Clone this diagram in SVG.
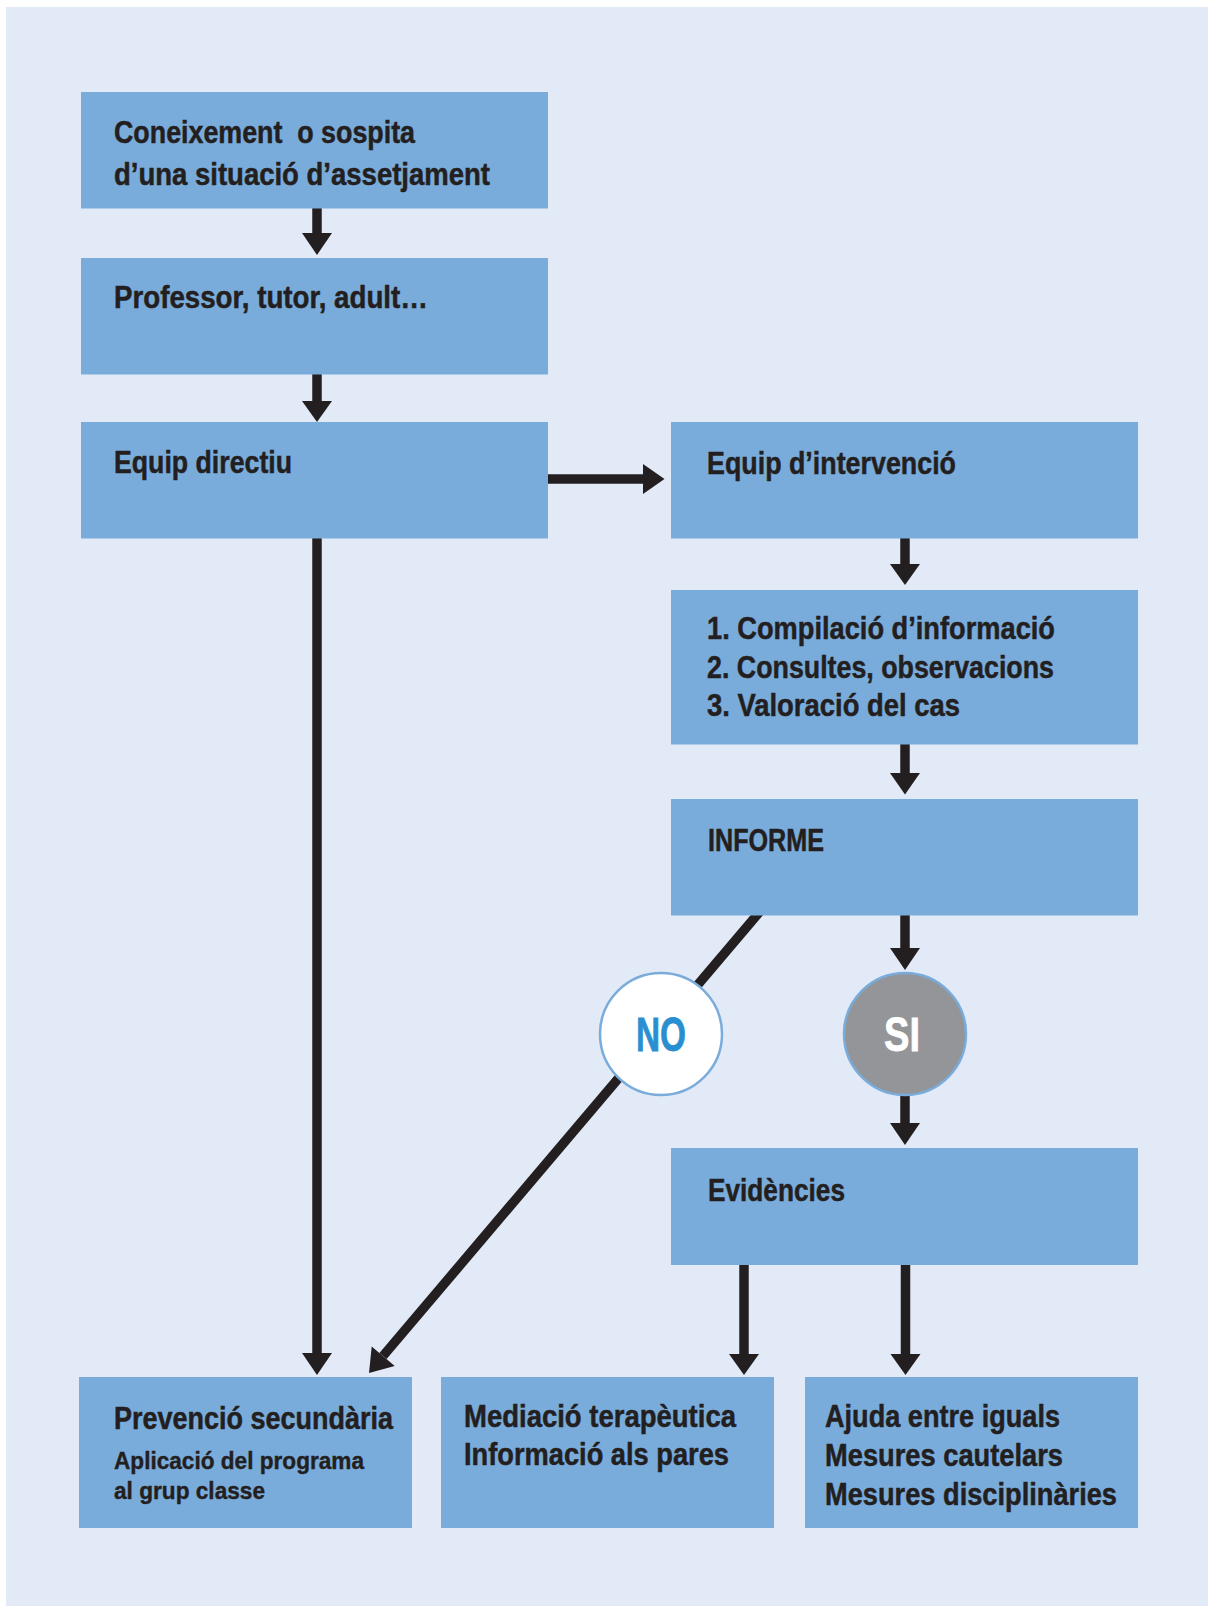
<svg xmlns="http://www.w3.org/2000/svg" width="1208" height="1606" viewBox="0 0 1208 1606">
<style>
.box{fill:#7aacdb}
.t{font-family:"Liberation Sans Narrow","Liberation Sans",Arial,sans-serif;font-weight:bold;font-size:31px;fill:#231f20;stroke:#231f20;stroke-width:0.5}
.s{font-size:24.5px;stroke-width:0.4}
.sh{stroke:#231f20;stroke-width:9.5;fill:none}
.hd{fill:#231f20}
.circ{stroke:#7aacdb;stroke-width:2.5}
.big{font-family:"Liberation Sans Narrow","Liberation Sans",Arial,sans-serif;font-weight:bold;font-size:48px;text-anchor:middle;stroke-width:0.8}
</style>
<rect x="0" y="0" width="1208" height="1606" fill="#ffffff"/>
<rect x="6" y="7" width="1202" height="1599" fill="#e3eaf7"/>

<g id="connectors">
  <line class="sh" x1="317" y1="205" x2="317" y2="234"/>
  <polygon class="hd" points="302,233 332,233 317,255"/>
  <line class="sh" x1="317" y1="370" x2="317" y2="402"/>
  <polygon class="hd" points="302,401 332,401 317,422"/>
  <line class="sh" x1="544" y1="479" x2="644" y2="479"/>
  <polygon class="hd" points="643,464 643,494 664.5,479"/>
  <line class="sh" x1="905" y1="535" x2="905" y2="565"/>
  <polygon class="hd" points="890,564 920,564 905,585"/>
  <line class="sh" x1="905" y1="740" x2="905" y2="774"/>
  <polygon class="hd" points="890,773 920,773 905,794.5"/>
  <line class="sh" x1="905" y1="910" x2="905" y2="949"/>
  <polygon class="hd" points="890,948 920,948 905,970"/>
  <line class="sh" x1="905" y1="1090" x2="905" y2="1124"/>
  <polygon class="hd" points="890,1123 920,1123 905,1145"/>
  <line class="sh" x1="744" y1="1260" x2="744" y2="1355"/>
  <polygon class="hd" points="729,1354 759,1354 744,1375"/>
  <line class="sh" x1="905.5" y1="1260" x2="905.5" y2="1355"/>
  <polygon class="hd" points="890.5,1354 920.5,1354 905.5,1375"/>
  <line class="sh" x1="317" y1="535" x2="317" y2="1354"/>
  <polygon class="hd" points="302,1353 332,1353 317,1375"/>
  <line class="sh" x1="762" y1="909" x2="383" y2="1356"/>
  <polygon class="hd" points="369,1373 394.7,1365.9 371.7,1346.5"/>
</g>

<g id="n1">
  <rect class="box" x="81" y="92" width="467" height="116.5"/>
  <text class="t" x="114" y="143" textLength="301" lengthAdjust="spacingAndGlyphs" xml:space="preserve">Coneixement  o sospita</text>
  <text class="t" x="114" y="185" textLength="376" lengthAdjust="spacingAndGlyphs">d’una situació d’assetjament</text>
</g>
<g id="n2">
  <rect class="box" x="81" y="258" width="467" height="116.5"/>
  <text class="t" x="114" y="308" textLength="314" lengthAdjust="spacingAndGlyphs">Professor, tutor, adult…</text>
</g>
<g id="n3">
  <rect class="box" x="81" y="422" width="467" height="116.5"/>
  <text class="t" x="114" y="473" textLength="178" lengthAdjust="spacingAndGlyphs">Equip directiu</text>
</g>
<g id="n4">
  <rect class="box" x="671" y="422" width="467" height="116.5"/>
  <text class="t" x="707" y="474" textLength="249" lengthAdjust="spacingAndGlyphs">Equip d’intervenció</text>
</g>
<g id="n5">
  <rect class="box" x="671" y="590" width="467" height="154.5"/>
  <text class="t" x="707" y="639" textLength="348" lengthAdjust="spacingAndGlyphs">1. Compilació d’informació</text>
  <text class="t" x="707" y="678" textLength="347" lengthAdjust="spacingAndGlyphs">2. Consultes, observacions</text>
  <text class="t" x="707" y="716" textLength="253" lengthAdjust="spacingAndGlyphs">3. Valoració del cas</text>
</g>
<g id="n6">
  <rect class="box" x="671" y="799" width="467" height="116.5"/>
  <text class="t" x="708" y="851" textLength="116" lengthAdjust="spacingAndGlyphs">INFORME</text>
</g>
<g id="no">
  <circle class="circ" cx="661" cy="1034" r="61" fill="#ffffff"/>
  <text class="big" x="661" y="1051" fill="#2a8fd0" stroke="#2a8fd0" textLength="50" lengthAdjust="spacingAndGlyphs">NO</text>
</g>
<g id="si">
  <circle class="circ" cx="905" cy="1034" r="61" fill="#939598"/>
  <text class="big" x="902" y="1051" fill="#ffffff" stroke="#ffffff" textLength="36" lengthAdjust="spacingAndGlyphs">SI</text>
</g>
<g id="n7">
  <rect class="box" x="671" y="1148" width="467" height="117"/>
  <text class="t" x="708" y="1201" textLength="137" lengthAdjust="spacingAndGlyphs">Evidències</text>
</g>
<g id="n8">
  <rect class="box" x="79" y="1377" width="333" height="151"/>
  <text class="t" x="114" y="1429" textLength="279" lengthAdjust="spacingAndGlyphs">Prevenció secundària</text>
  <text class="t s" x="114" y="1469" textLength="250" lengthAdjust="spacingAndGlyphs">Aplicació del programa</text>
  <text class="t s" x="114" y="1499" textLength="151" lengthAdjust="spacingAndGlyphs">al grup classe</text>
</g>
<g id="n9">
  <rect class="box" x="441" y="1377" width="333" height="151"/>
  <text class="t" x="464" y="1427" textLength="272" lengthAdjust="spacingAndGlyphs">Mediació terapèutica</text>
  <text class="t" x="464" y="1465" textLength="265" lengthAdjust="spacingAndGlyphs">Informació als pares</text>
</g>
<g id="n10">
  <rect class="box" x="805" y="1377" width="333" height="151"/>
  <text class="t" x="825" y="1427" textLength="235" lengthAdjust="spacingAndGlyphs">Ajuda entre iguals</text>
  <text class="t" x="825" y="1466" textLength="238" lengthAdjust="spacingAndGlyphs">Mesures cautelars</text>
  <text class="t" x="825" y="1505" textLength="292" lengthAdjust="spacingAndGlyphs">Mesures disciplinàries</text>
</g>
</svg>
